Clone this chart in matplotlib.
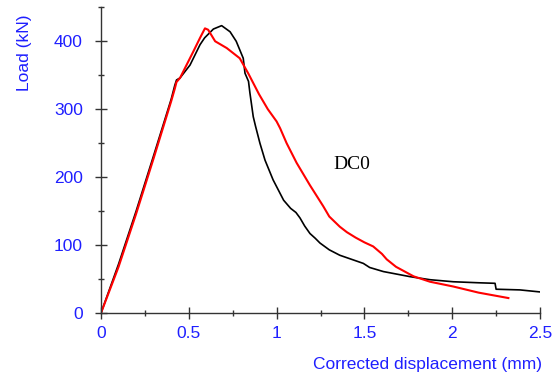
import numpy as np
import matplotlib
matplotlib.use("Agg")
import matplotlib.pyplot as plt
from matplotlib.ticker import MultipleLocator

# load-displacement curves, two tests on specimen DC0
disp_black = [0, 0.1, 0.2, 0.3, 0.4, 0.42, 0.43, 0.45, 0.507, 0.564, 0.59, 0.64,
              0.687, 0.735, 0.77, 0.81, 0.82, 0.84, 0.848, 0.867, 0.88, 0.905,
              0.934, 0.98, 1.04, 1.08, 1.11, 1.133, 1.16, 1.19, 1.22, 1.247, 1.30,
              1.36, 1.494, 1.53, 1.608, 1.76, 1.874, 2.006, 2.15, 2.244, 2.25,
              2.386, 2.5]
load_black = [0, 72, 150, 232, 315, 335, 343, 346, 365, 395, 405, 418,
              423, 414, 400, 375, 353, 341, 324, 289, 275, 250,
              225, 196, 166, 154, 148, 140, 128, 117, 110, 103, 93,
              85, 73, 67, 61, 53.5, 49, 46, 44.5, 43.7, 35,
              34, 31]

disp_red = [0, 0.1, 0.2, 0.3, 0.4, 0.42, 0.43, 0.45, 0.526, 0.564, 0.592, 0.61,
            0.65, 0.716, 0.79, 0.84, 0.9, 0.95, 1.0, 1.02, 1.057, 1.114,
            1.19, 1.266, 1.30, 1.36, 1.40, 1.45, 1.50, 1.55, 1.60, 1.627,
            1.68, 1.78, 1.874, 2.006, 2.15, 2.32]
load_red = [0, 68, 146, 228, 312, 330, 340, 346, 385, 405, 419, 417,
            400, 390, 375, 352, 322, 300, 282, 272, 250, 221,
            188, 157, 142, 127, 119, 111, 104, 98, 87, 79,
            68, 54, 46, 39, 30, 22]

blue = (0.12, 0.12, 1.0)

fig = plt.figure(figsize=(5.55, 3.8), dpi=100)
ax = fig.add_axes([101 / 555, 1 - 313 / 380, 439 / 555, (313 - 7.3) / 380])

ax.plot(disp_black, load_black, color="black", lw=1.2)
ax.plot(disp_red, load_red, color="red", lw=1.5)

ax.set_xlim(0, 2.5)
ax.set_ylim(0, 450)
ax.xaxis.set_major_locator(MultipleLocator(0.5))
ax.xaxis.set_minor_locator(MultipleLocator(0.25))
ax.yaxis.set_major_locator(MultipleLocator(100))
ax.yaxis.set_minor_locator(MultipleLocator(50))
ax.set_xticks([0, 0.5, 1, 1.5, 2, 2.5])
ax.set_xticklabels(["0", "0.5", "1", "1.5", "2", "2.5"])

for side in ("top", "right"):
    ax.spines[side].set_visible(False)
for side in ("left", "bottom"):
    ax.spines[side].set_color("#333333")
    ax.spines[side].set_linewidth(1.0)

ax.tick_params(axis="both", which="both", direction="inout", color="#333333",
               labelcolor=blue, labelsize=12.5)
ax.tick_params(axis="y", which="major", length=8, width=1, pad=9)
ax.tick_params(axis="y", which="minor", length=4, width=1)
ax.tick_params(axis="x", which="major", length=9, width=1, pad=5)
ax.tick_params(axis="x", which="minor", length=4, width=1)
for lab in ax.get_xticklabels() + ax.get_yticklabels():
    lab.set_family("Liberation Sans")

fig.text(25 / 555, 1 - 52.5 / 380, "Load (kN)", rotation=90, ha="center",
         va="center", color=blue, fontsize=12.5, family="Liberation Sans")
fig.text(542 / 555, 1 - 365 / 380, "Corrected displacement (mm)", ha="right",
         va="center", color=blue, fontsize=12.5, family="Liberation Sans")

ax.text(1.428, 218, "DC0", ha="center", va="center", fontsize=14,
        family="Liberation Serif", color="black")

fig.savefig("out.png", dpi=100)
